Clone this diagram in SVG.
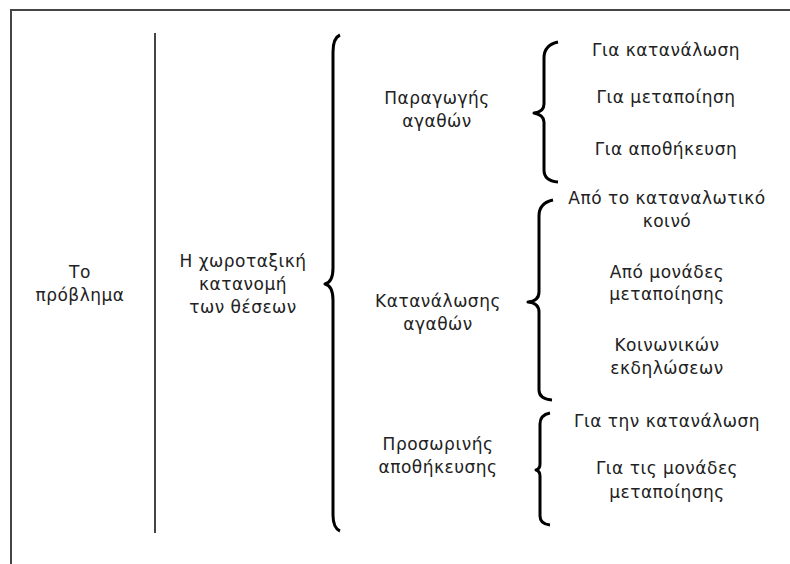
<svg xmlns="http://www.w3.org/2000/svg" width="790" height="564" viewBox="0 0 790 564">
  <style>
    text { font-family: "DejaVu Sans", Verdana, sans-serif; font-size: 17px; letter-spacing: 0.5px; fill: #222; text-anchor: middle; }
    .brace { fill: none; stroke: #000; stroke-width: 3; stroke-linejoin: round; stroke-linecap: butt; }
    .frame { fill: none; stroke: #444; stroke-width: 2; }
    .sep { stroke: #444; stroke-width: 2; }
  </style>
  <rect width="790" height="564" fill="#fff"/>
  <rect class="frame" x="11" y="10" width="800" height="600"/>

  <g id="connectors">
    <line class="sep" x1="155" y1="33" x2="155" y2="533"/>
    <path id="brace-main" class="brace" d="M340,35 Q333,38 333,52 L333,268 Q333,282 325,284 Q333,286 333,300 L333,515 Q333,528 340,531"/>
    <path id="brace-production" class="brace" d="M558,42 Q544,45 544,58 L544,104 Q544,112 534,113 Q544,115 544,122 L544,170 Q544,181 558,182"/>
    <path id="brace-consumption" class="brace" d="M553,200 Q539,203 539,216 L539,292 Q539,301 528,302 Q539,303 539,312 L539,390 Q539,399 552,400"/>
    <path id="brace-storage" class="brace" d="M550,413 Q540,415 540,424 L540,464 Q540,469 536,470 Q540,471 540,476 L540,516 Q540,524 550,525"/>
  </g>

  <g id="node-problem">
    <text x="80" y="278">Το</text>
    <text x="80" y="301">πρόβλημα</text>
  </g>
  <g id="node-allocation">
    <text x="243" y="267">Η χωροταξική</text>
    <text x="243" y="290">κατανομή</text>
    <text x="243" y="313">των θέσεων</text>
  </g>
  <g id="node-production">
    <text x="437" y="104">Παραγωγής</text>
    <text x="437" y="127">αγαθών</text>
  </g>
  <g id="node-consumption">
    <text x="438" y="307">Κατανάλωσης</text>
    <text x="438" y="330">αγαθών</text>
  </g>
  <g id="node-storage">
    <text x="438" y="450">Προσωρινής</text>
    <text x="438" y="473">αποθήκευσης</text>
  </g>
  <g id="node-p1">
    <text x="666" y="56">Για κατανάλωση</text>
  </g>
  <g id="node-p2">
    <text x="666" y="103">Για μεταποίηση</text>
  </g>
  <g id="node-p3">
    <text x="666" y="155">Για αποθήκευση</text>
  </g>
  <g id="node-c1">
    <text x="667" y="204">Από το καταναλωτικό</text>
    <text x="667" y="227">κοινό</text>
  </g>
  <g id="node-c2">
    <text x="667" y="278">Από μονάδες</text>
    <text x="667" y="300">μεταποίησης</text>
  </g>
  <g id="node-c3">
    <text x="667" y="351">Κοινωνικών</text>
    <text x="667" y="374">εκδηλώσεων</text>
  </g>
  <g id="node-s1">
    <text x="667" y="427">Για την κατανάλωση</text>
  </g>
  <g id="node-s2">
    <text x="667" y="474">Για τις μονάδες</text>
    <text x="667" y="498">μεταποίησης</text>
  </g>
</svg>
